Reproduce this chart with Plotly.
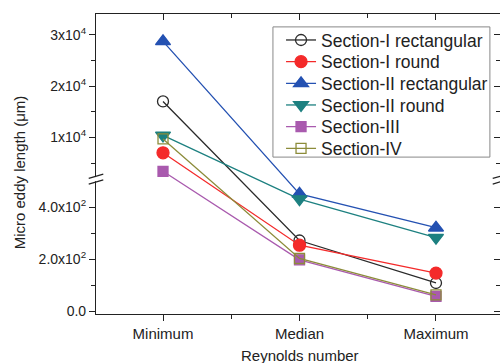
import plotly.graph_objects as go

# ---------------- data ----------------
categories = ["Minimum", "Median", "Maximum"]
series_names = ["Section-I rectangular", "Section-I round", "Section-II rectangular",
                "Section-II round", "Section-III", "Section-IV"]
sec1_rect = [17000, 272, 109]
sec1_round = [7000, 254, 147]
sec2_rect = [28700, 451, 321]
sec2_round = [10400, 431, 283]
sec3 = [3400, 198, 58]
sec4 = [9700, 203, 63]

y_tick_values = [0, 200, 400, 10000, 20000, 30000]
y_tick_labels = ["0.0", "2.0x10<sup>2</sup>", "4.0x10<sup>2</sup>",
                 "1x10<sup>4</sup>", "2x10<sup>4</sup>", "3x10<sup>4</sup>"]
y_minor_values = [100, 300, 5000, 15000, 25000]

# ---------------- broken-axis scale ----------------
LOW_TOP = 505        # top of lower segment (data units)
HIGH_START = 2000    # bottom of upper segment (data units)
GAP = 5
HIGH_SCALE = 0.0197  # compression of the upper segment


def brk(v):
    if v <= LOW_TOP:
        return v
    return LOW_TOP + GAP + (v - HIGH_START) * HIGH_SCALE


styles = [
    dict(color="#2a2a2a", symbol="circle-open", size=11),
    dict(color="#f42a2a", symbol="circle", size=12),
    dict(color="#2451b2", symbol="triangle-up", size=13),
    dict(color="#1d8080", symbol="triangle-down", size=13),
    dict(color="#a95aae", symbol="square", size=10),
    dict(color="#8c8c3a", symbol="square-open", size=10),
]
all_series = [sec1_rect, sec1_round, sec2_rect, sec2_round, sec3, sec4]
xs = list(range(len(categories)))

FONT = "Liberation Sans, Arial, sans-serif"
INK = "#222"

# legend geometry (paper coords)
LEG_X0, LEG_X1, LEG_Y0, LEG_Y1 = 0.438, 0.975, 0.523, 0.957
LEG_ROW_TOP = 0.913
LEG_ROW_STEP = 0.0722

fig = go.Figure()
legend_layouts = {}
for i, (name, vals, st) in enumerate(zip(series_names, all_series, styles)):
    lg = "legend" if i == 0 else f"legend{i + 1}"
    fig.add_trace(go.Scatter(
        x=xs, y=[brk(v) for v in vals], name=name, mode="lines+markers",
        line=dict(color=st["color"], width=1.3),
        marker=dict(symbol=st["symbol"], size=st["size"], color=st["color"],
                    line=dict(color=st["color"], width=1.3)),
        legend=lg,
        customdata=vals, hovertemplate="%{customdata}<extra>" + name + "</extra>",
    ))
    legend_layouts[lg] = dict(
        x=0.458, y=LEG_ROW_TOP - i * LEG_ROW_STEP, xanchor="left", yanchor="middle",
        bgcolor="rgba(0,0,0,0)", borderwidth=0,
        font=dict(family=FONT, size=17.5, color=INK), itemwidth=30,
    )

# invisible trace for mirrored axes (top / right with inside ticks)
fig.add_trace(go.Scatter(x=[None], y=[None], xaxis="x2", yaxis="y2", showlegend=False))

x_range = [-0.491, 2.469]
y_range = [-10, 1141]

fig.update_layout(
    width=500, height=363,
    margin=dict(l=96, r=0, t=14, b=49, autoexpand=False),
    paper_bgcolor="white", plot_bgcolor="white",
    font=dict(family=FONT, color=INK),
    xaxis=dict(range=x_range, tickvals=xs, ticktext=categories, showgrid=False, zeroline=False,
               showline=True, linecolor=INK, linewidth=1.2, mirror=True, automargin=False,
               ticks="outside", ticklen=6, tickcolor=INK, tickwidth=1.2,
               tickfont=dict(family=FONT, size=15, color=INK),
               minor=dict(tickvals=[0.5, 1.5], ticks="outside", ticklen=4,
                          tickcolor=INK, tickwidth=1.2)),
    yaxis=dict(range=y_range, tickvals=[brk(v) for v in y_tick_values], ticktext=y_tick_labels,
               showgrid=False, zeroline=False, showline=True, linecolor=INK, linewidth=1.2,
               automargin=False,
               ticks="outside", ticklen=6, tickcolor=INK, tickwidth=1.2,
               tickfont=dict(family=FONT, size=14, color=INK),
               minor=dict(tickvals=[brk(v) for v in y_minor_values], ticks="outside", ticklen=4,
                          tickcolor=INK, tickwidth=1.2)),
    xaxis2=dict(overlaying="x", side="top", anchor="y2", range=x_range, tickvals=xs,
                showticklabels=False, showgrid=False, zeroline=False, showline=False,
                automargin=False,
                ticks="inside", ticklen=6, tickcolor=INK, tickwidth=1.2,
                minor=dict(tickvals=[0.5, 1.5], ticks="inside", ticklen=4,
                           tickcolor=INK, tickwidth=1.2)),
    yaxis2=dict(overlaying="y", side="right", anchor="x2", range=y_range,
                tickvals=[brk(v) for v in y_tick_values], showticklabels=False,
                showgrid=False, zeroline=False, showline=False, automargin=False,
                ticks="inside", ticklen=6, tickcolor=INK, tickwidth=1.2,
                minor=dict(tickvals=[brk(v) for v in y_minor_values], ticks="inside", ticklen=4,
                           tickcolor=INK, tickwidth=1.2)),
    showlegend=True,
    **legend_layouts,
)

# legend frame
fig.add_shape(type="rect", xref="paper", yref="paper", x0=LEG_X0, x1=LEG_X1, y0=LEG_Y0, y1=LEG_Y1,
              fillcolor="white", line=dict(color="#888", width=1), layer="above")

# axis titles as annotations
fig.add_annotation(text="Micro eddy length (\u03bcm)", textangle=-90, xref="paper", yref="paper",
                   x=-0.19, y=0.473, xanchor="center", yanchor="middle", showarrow=False,
                   font=dict(family=FONT, size=15, color=INK))
fig.add_annotation(text="Reynolds number", xref="paper", yref="paper",
                   x=0.505, y=-0.137, xanchor="center", yanchor="middle", showarrow=False,
                   font=dict(family=FONT, size=15, color=INK))

# break marks on left and right axes
c = (LOW_TOP + brk(HIGH_START)) / 2.0
for xp in (0.0, 1.0):
    fig.add_shape(type="rect", xref="paper", yref="y", x0=xp - 0.006, x1=xp + 0.006,
                  y0=c - 8, y1=c + 8, fillcolor="white", line=dict(width=0), layer="above")
    for off in (-11, 11):
        fig.add_shape(type="line", xref="paper", yref="y",
                      x0=xp - 0.018, x1=xp + 0.018, y0=c + off - 8, y1=c + off + 8,
                      line=dict(color=INK, width=1.2), layer="above")

fig.write_html("out.html", config={"displayModeBar": False},
               post_script="document.body.style.margin='0px';")
